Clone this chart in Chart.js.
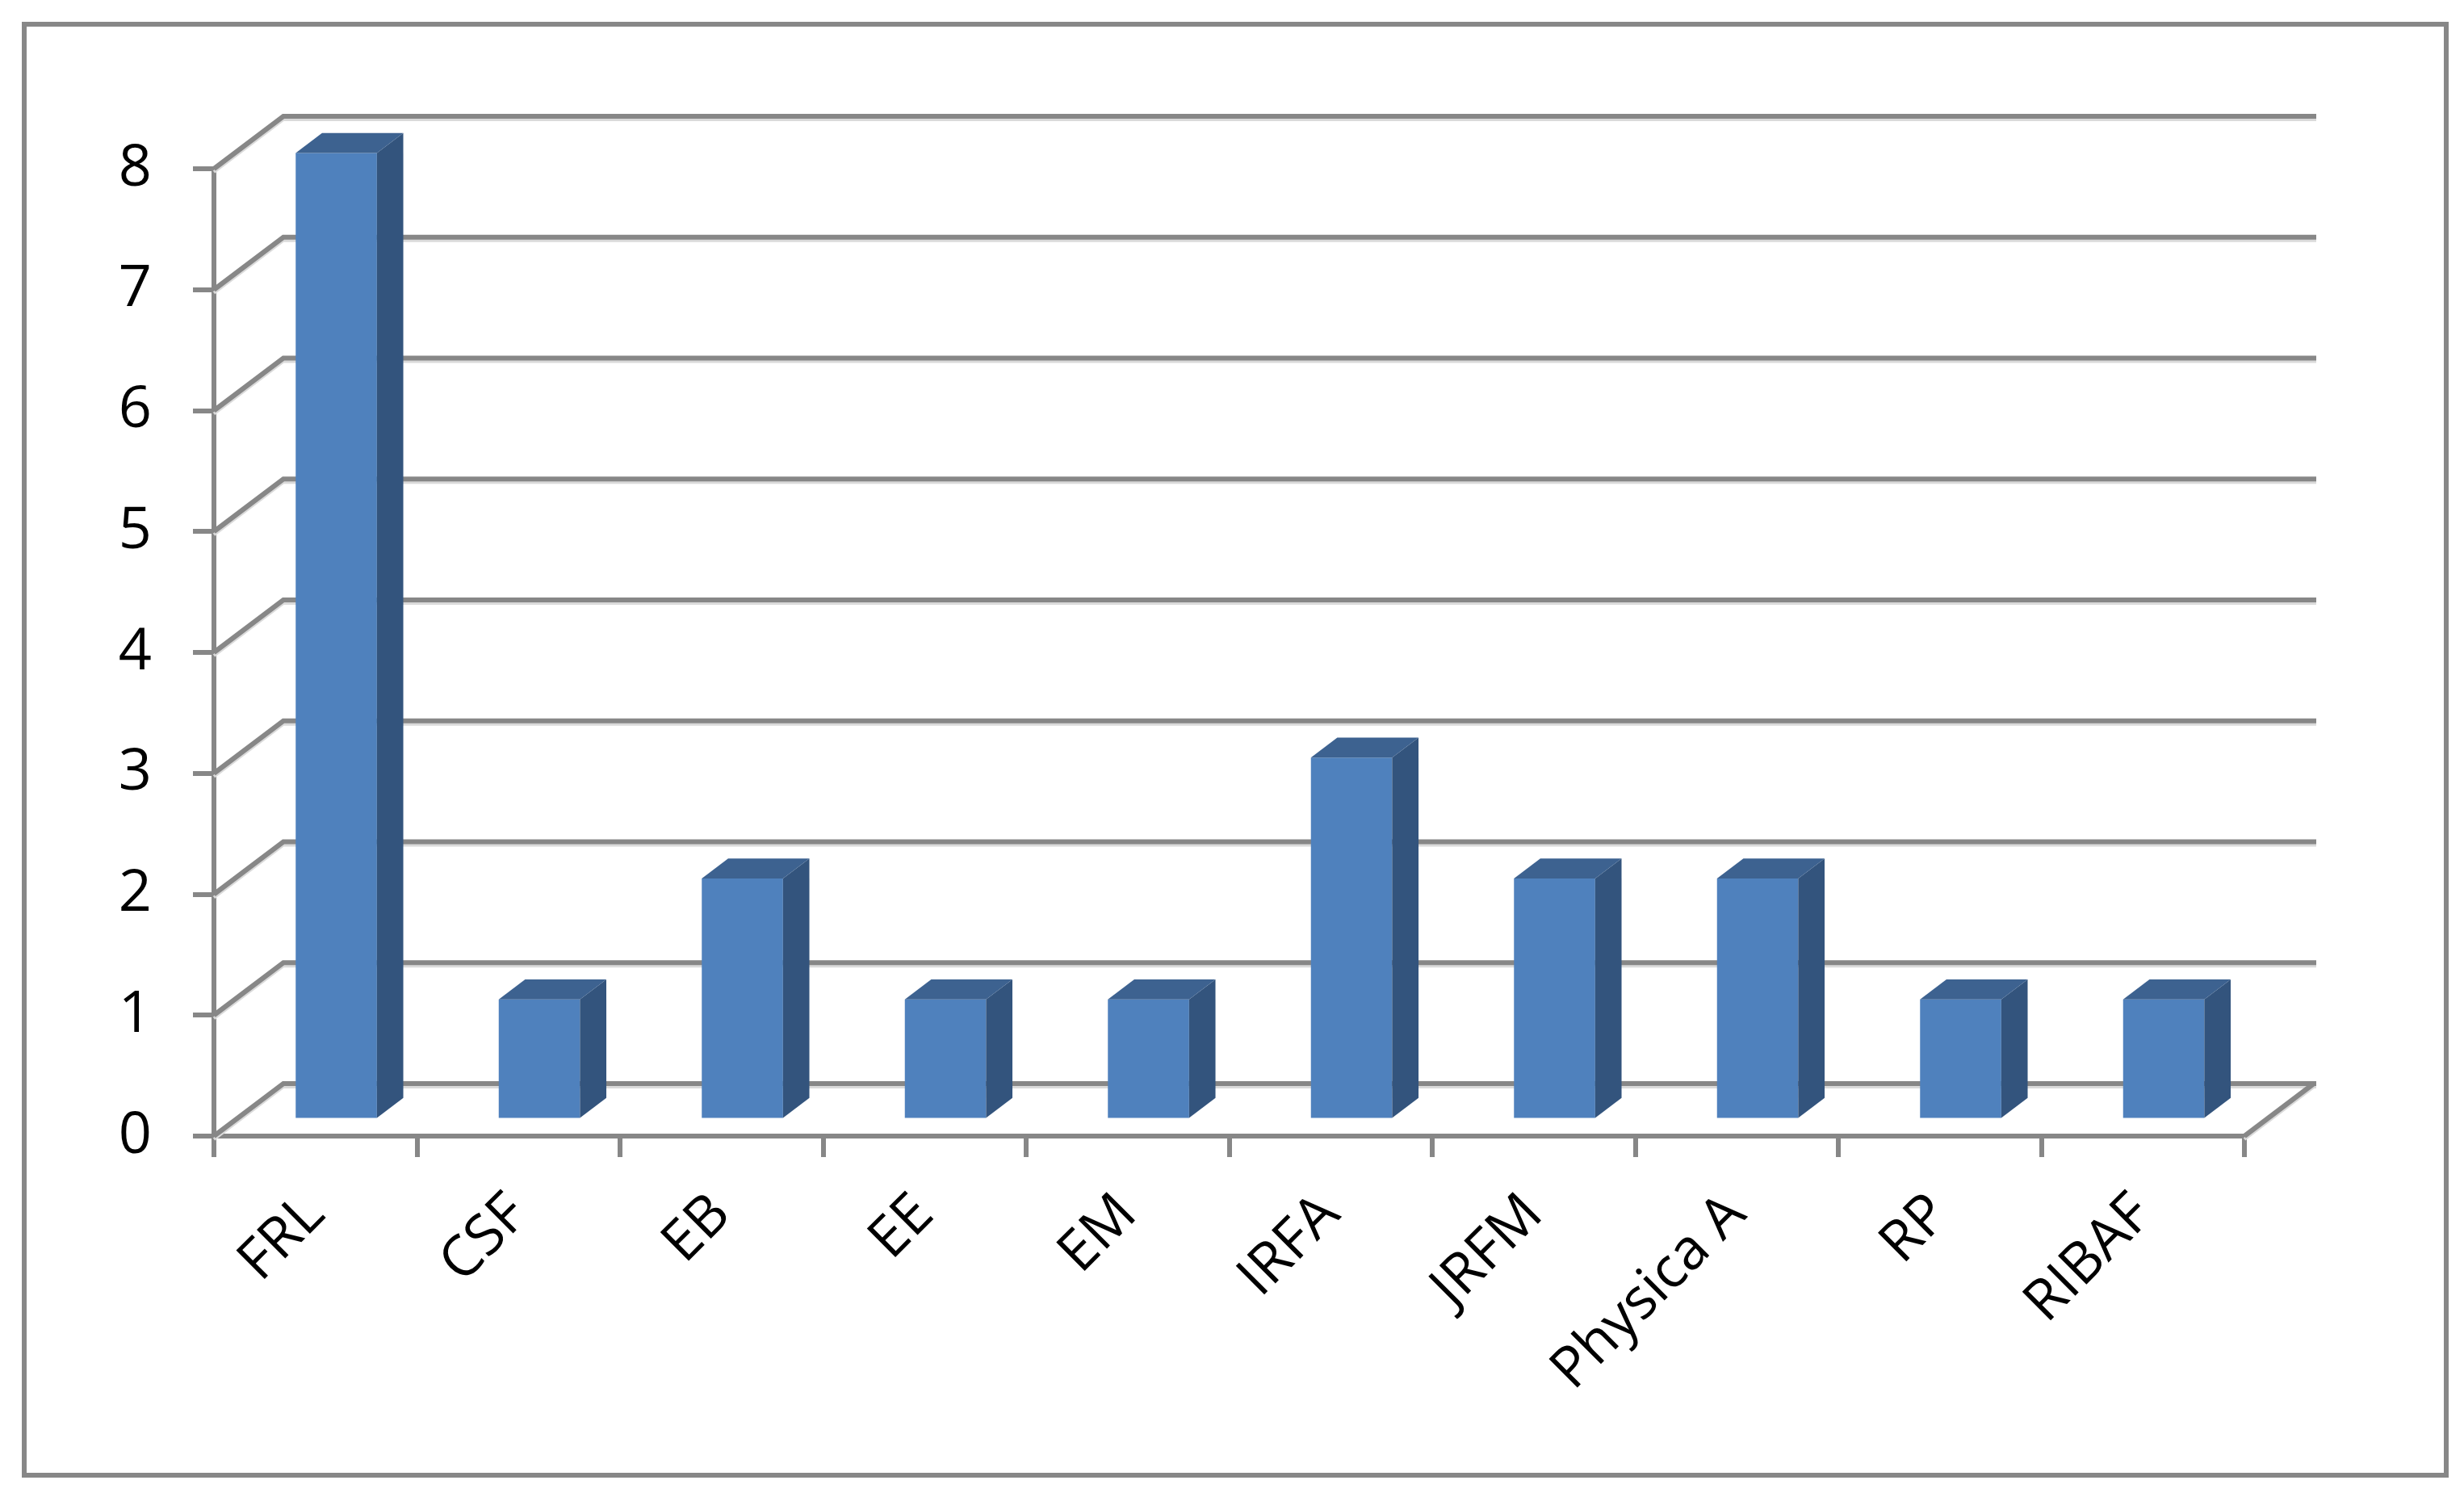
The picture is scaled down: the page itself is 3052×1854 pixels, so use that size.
<!DOCTYPE html>
<html>
<head>
<meta charset="utf-8">
<script src="https://cdn.jsdelivr.net/npm/chart.js@4.4.0/dist/chart.umd.min.js"></script>
<style>
  html, body { margin: 0; padding: 0; background: #fff; }
  #chart { display: block; }
</style>
</head>
<body>
<canvas id="chart" width="3052" height="1854"></canvas>
<script>
const categories = ["FRL", "CSF", "EB", "EE", "EM", "IRFA", "JRFM", "Physica A", "RP", "RIBAF"];
const counts = [8, 1, 2, 1, 1, 3, 2, 2, 1, 1];
const yMin = 0;
const yMax = 8;
const yStep = 1;

const GRID = "#878787";
const FONT = "'Open Sans', 'DejaVu Sans', sans-serif";
// offset of the back wall from the front plane
const DEPTH_X = 86, DEPTH_Y = -65;
// bars start 30% into the depth and are 38% deep
const BAR_SHIFT = 0.3, BAR_DEPTH = 0.38;

function wallLines(ctx, a, y, dy) {
  y.ticks.forEach(t => {
    const py = y.getPixelForValue(t.value) + dy;
    ctx.beginPath();
    ctx.moveTo(a.left, py);
    ctx.lineTo(a.left + DEPTH_X, py + DEPTH_Y);
    ctx.lineTo(a.right + DEPTH_X + 3, py + DEPTH_Y);
    ctx.stroke();
  });
  ctx.beginPath();
  ctx.moveTo(a.right, a.bottom + dy);
  ctx.lineTo(a.right + DEPTH_X, a.bottom + DEPTH_Y + dy);
  ctx.stroke();
}

const threeD = {
  id: "threeD",
  beforeDraw(chart) {
    const ctx = chart.ctx;
    ctx.save();
    ctx.fillStyle = "#fff";
    ctx.fillRect(0, 0, chart.width, chart.height);
    ctx.strokeStyle = GRID;
    ctx.lineWidth = 6;
    ctx.strokeRect(30, 30, 3000, 1797);
    ctx.restore();
  },
  beforeDatasetsDraw(chart) {
    const { ctx, chartArea: a, scales: { y } } = chart;
    ctx.save();
    // soft shadow under the wall lines, then the lines
    ctx.strokeStyle = "#dadada";
    ctx.lineWidth = 4;
    wallLines(ctx, a, y, 4);
    ctx.strokeStyle = GRID;
    ctx.lineWidth = 6;
    wallLines(ctx, a, y, 0);
    ctx.restore();

    // bars are drawn by chart.js in their own depth plane
    ctx.save();
    ctx.translate(DEPTH_X * BAR_SHIFT, DEPTH_Y * BAR_SHIFT);
  },
  afterDatasetsDraw(chart) {
    const ctx = chart.ctx;
    const dx = DEPTH_X * BAR_DEPTH, dy = DEPTH_Y * BAR_DEPTH;
    chart.getDatasetMeta(0).data.forEach(bar => {
      const { x, y, base, width } = bar.getProps(["x", "y", "base", "width"], true);
      const l = x - width / 2, r = x + width / 2;
      // side
      ctx.fillStyle = "#33547d";
      ctx.beginPath();
      ctx.moveTo(r, y);
      ctx.lineTo(r + dx, y + dy);
      ctx.lineTo(r + dx, base + dy);
      ctx.lineTo(r, base);
      ctx.closePath();
      ctx.fill();
      // top
      ctx.fillStyle = "#3d6290";
      ctx.beginPath();
      ctx.moveTo(l, y);
      ctx.lineTo(l + dx, y + dy);
      ctx.lineTo(r + dx, y + dy);
      ctx.lineTo(r, y);
      ctx.closePath();
      ctx.fill();
    });
    ctx.restore();
  }
};

new Chart(document.getElementById("chart"), {
  type: "bar",
  data: {
    labels: categories,
    datasets: [{
      data: counts,
      backgroundColor: "#4f81bd",
      barPercentage: 0.4,
      categoryPercentage: 1,
      clip: false
    }]
  },
  options: {
    responsive: false,
    animation: false,
    layout: { padding: { top: 209, right: 272, left: 0, bottom: 0 } },
    plugins: { legend: { display: false }, tooltip: { enabled: false } },
    scales: {
      x: {
        grid: { display: true, drawOnChartArea: false, drawTicks: true, tickLength: 26, color: GRID, lineWidth: 6, offset: true },
        border: { display: true, color: GRID, width: 6 },
        ticks: {
          color: "#000",
          font: { family: FONT, size: 70 },
          minRotation: 45,
          maxRotation: 45,
          autoSkip: false,
          padding: 30
        },
        afterFit(s) { s.height = 1854 - 1407; }
      },
      y: {
        min: yMin,
        max: yMax,
        ticks: { stepSize: yStep, color: "#000", font: { family: FONT, size: 72 }, padding: 51 },
        grid: { drawOnChartArea: false, drawTicks: true, tickLength: 26, color: GRID, lineWidth: 6 },
        border: { display: true, color: GRID, width: 6 },
        afterFit(s) { s.width = 265; }
      }
    }
  },
  plugins: [threeD]
});
</script>
</body>
</html>
